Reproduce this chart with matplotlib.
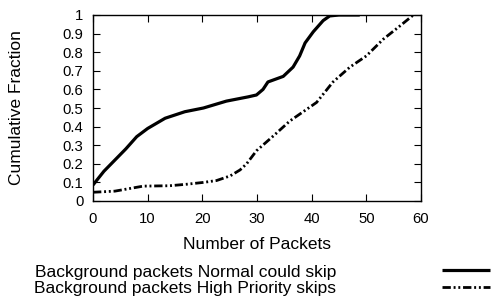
import matplotlib
matplotlib.use('Agg')
import matplotlib.pyplot as plt
import numpy as np

# CDF values
normal_x = [0, 2, 4, 6, 8, 10, 13.2, 16.8, 20.2, 24.4, 28.4, 29.9, 31.1, 32.0, 34.8, 36.6, 37.8, 38.8, 40.3, 42.1, 43.3, 45, 48.8]
normal_y = [0.086, 0.16, 0.22, 0.28, 0.346, 0.39, 0.445, 0.48, 0.50, 0.537, 0.56, 0.57, 0.60, 0.64, 0.67, 0.72, 0.78, 0.85, 0.91, 0.97, 0.995, 1.0, 1.0]

high_x = [0, 4, 9.2, 14, 17.1, 20.2, 22.6, 25.1, 26.9, 28.1, 29.9, 33.0, 36.0, 40.9, 43.9, 47.0, 50.0, 53.1, 56.1, 58.6]
high_y = [0.047, 0.053, 0.08, 0.082, 0.09, 0.10, 0.11, 0.135, 0.167, 0.20, 0.27, 0.35, 0.43, 0.53, 0.64, 0.72, 0.78, 0.87, 0.94, 1.0]

labels = ['Background packets Normal could skip', 'Background packets High Priority skips']

plt.rcParams['font.family'] = ['Liberation Sans', 'DejaVu Sans']

fig = plt.figure(figsize=(4.99, 3.03), dpi=100)
ax = fig.add_axes([93/499, 1 - 201/303, (421-93)/499, (201-15)/303])

l1, = ax.plot(normal_x, normal_y, color='black', linewidth=2.3, solid_capstyle='butt')
l2, = ax.plot(high_x, high_y, color='black', linewidth=2.0,
              linestyle=(0, (3, 1, 0.7, 1, 0.7, 1)))

ax.set_xlim(0, 60)
ax.set_ylim(0, 1)
ax.set_xticks(np.arange(0, 61, 10))
ax.set_yticks(np.arange(0, 1.01, 0.1))
ax.set_yticklabels(['0', '0.1', '0.2', '0.3', '0.4', '0.5', '0.6', '0.7', '0.8', '0.9', '1'])
ax.tick_params(direction='in', top=True, right=True, length=5, width=0.8, labelsize=10.7, pad=7)
ax.tick_params(axis='x', pad=8)
ax.set_xlabel('Number of Packets', fontsize=12.5, labelpad=8)
ax.set_ylabel('Cumulative Fraction', fontsize=12.5, labelpad=28)
for s in ax.spines.values():
    s.set_linewidth(1.0)

# legend at bottom: text left, line samples right
fig.legend([l1, l2], labels, loc='lower left', bbox_to_anchor=(27/499, 0),
           frameon=False, markerfirst=False, handlelength=2.75, handletextpad=6.1,
           labelspacing=0.08, fontsize=12.5, borderaxespad=0)

fig.savefig('out.png', dpi=100)
